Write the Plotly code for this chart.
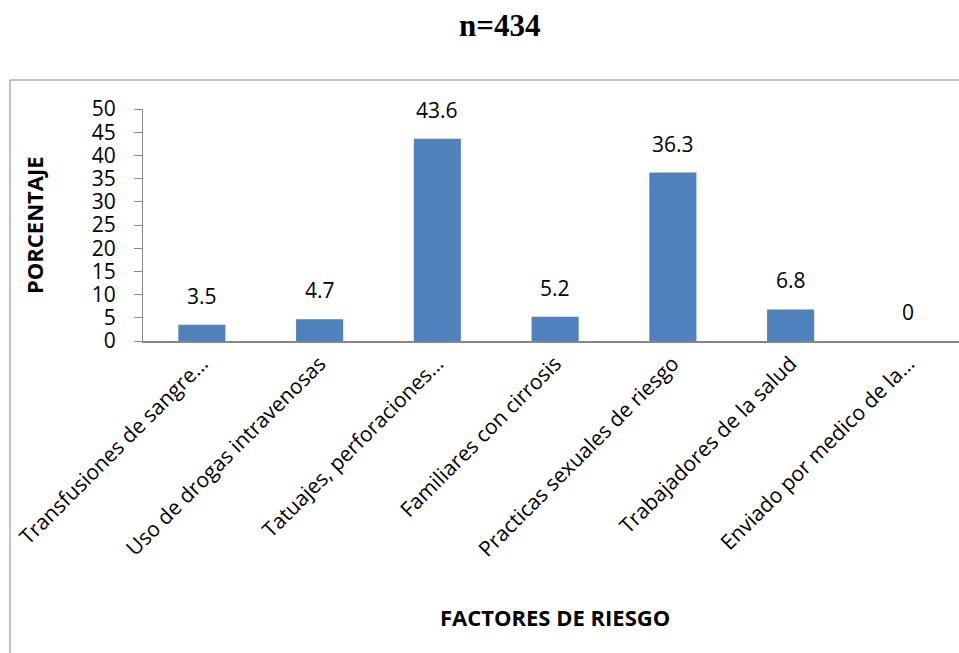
import plotly.graph_objects as go

# Risk factors and their percentages (n=434)
categories = [
    "Transfusiones de sangre…",
    "Uso de drogas intravenosas",
    "Tatuajes, perforaciones…",
    "Familiares con cirrosis",
    "Practicas sexuales de riesgo",
    "Trabajadores de la salud",
    "Enviado por medico de la…",
]
values = [3.5, 4.7, 43.6, 5.2, 36.3, 6.8, 0]
y_ticks = [0, 5, 10, 15, 20, 25, 30, 35, 40, 45, 50]

FONT = "Open Sans"
BAR_COLOR = "#4F81BD"
AXIS_COLOR = "#868686"

W, H = 959, 653
L, T, B = 143, 109, 312
plot_w = W - L
plot_h = H - T - B


def px_x(px):
    return (px - L) / plot_w


def px_y(py):
    return (H - B - py) / plot_h


fig = go.Figure()
fig.add_trace(go.Bar(
    x=list(range(len(categories))),
    y=values,
    marker=dict(color=BAR_COLOR, line=dict(width=0)),
    width=0.4,
    hoverinfo="skip",
))

# value labels above each bar
for i, v in enumerate(values):
    fig.add_annotation(
        x=i, y=v, xref="x", yref="y",
        text=f"{v:g}", showarrow=False,
        yanchor="middle", yshift=29,
        font=dict(family=FONT, size=21, color="#000000"),
    )

fig.update_layout(
    width=W, height=H,
    margin=dict(l=L, r=0, t=T, b=B, pad=0),
    plot_bgcolor="white", paper_bgcolor="white",
    showlegend=False,
    xaxis=dict(
        range=[-0.5, 6.43],
        tickmode="array",
        tickvals=list(range(len(categories))),
        ticktext=categories,
        tickangle=-45,
        tickfont=dict(family=FONT, size=21, color="#000000"),
        showline=True, linecolor=AXIS_COLOR, linewidth=2,
        showgrid=False, zeroline=False, ticks="",
        fixedrange=True,
    ),
    yaxis=dict(
        range=[0, 50],
        tickmode="array",
        tickvals=y_ticks,
        tickfont=dict(family=FONT, size=21, color="#000000"),
        showline=True, linecolor=AXIS_COLOR, linewidth=1,
        ticks="outside", ticklen=8, tickcolor=AXIS_COLOR,
        ticklabelstandoff=14,
        showgrid=False, zeroline=False,
        fixedrange=True,
    ),
)

# chart frame
fig.add_shape(
    type="rect", xref="paper", yref="paper",
    x0=px_x(10), x1=px_x(W + 40), y0=px_y(80), y1=px_y(H + 40),
    line=dict(color=AXIS_COLOR, width=1), fillcolor="rgba(0,0,0,0)",
    layer="below",
)

# title
fig.add_annotation(
    x=px_x(499), y=px_y(26), xref="paper", yref="paper",
    text="<b>n=434</b>", showarrow=False,
    xanchor="center", yanchor="middle",
    font=dict(family="Liberation Serif", size=31, color="#000000"),
)

# axis titles
fig.add_annotation(
    x=px_x(34), y=px_y(225), xref="paper", yref="paper",
    text="<b>PORCENTAJE</b>", showarrow=False, textangle=-90,
    xanchor="center", yanchor="middle",
    font=dict(family=FONT, size=22, color="#000000"),
)
fig.add_annotation(
    x=px_x(555), y=px_y(617), xref="paper", yref="paper",
    text="<b>FACTORES DE RIESGO</b>", showarrow=False,
    xanchor="center", yanchor="middle",
    font=dict(family=FONT, size=22, color="#000000"),
)

fig.write_html("out.html")
